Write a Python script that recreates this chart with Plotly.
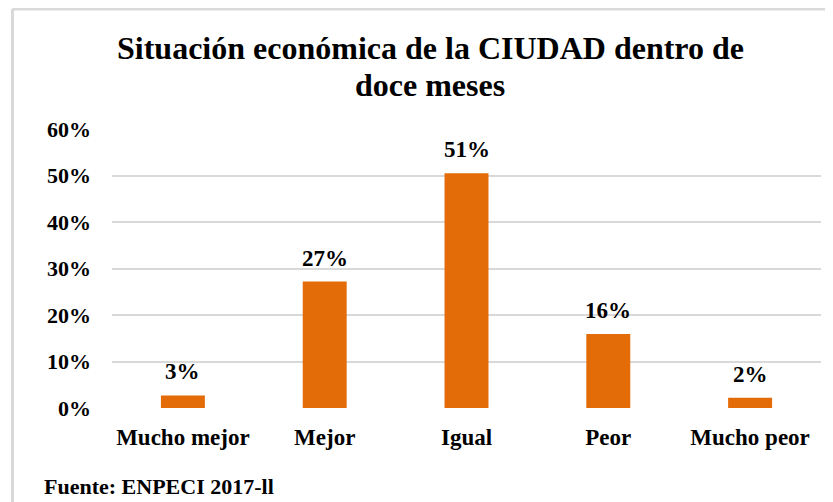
import plotly.graph_objects as go

categories = ["Mucho mejor", "Mejor", "Igual", "Peor", "Mucho peor"]
values = [0.027, 0.272, 0.505, 0.159, 0.022]
labels = ["3%", "27%", "51%", "16%", "2%"]
title_lines = ["Situación económica de la CIUDAD dentro de", "doce meses"]
source_text = "Fuente: ENPECI 2017-ll"

FONT = "Liberation Serif, Times New Roman, serif"
ORANGE = "#E36C09"
GRID = "#D9D9D9"

# browser body margin offsets the figure by 8px
OFF = 8
W, H = 833 - OFF, 502 - OFF
L, R, T, B = 112 - OFF, 12, 129 - OFF, 94
pw, ph = W - L - R, H - T - B

def px(x):
    return (x - OFF - L) / pw

def py(y):
    return (H - B - (y - OFF)) / ph

fig = go.Figure(go.Bar(
    x=categories, y=values,
    marker=dict(color=ORANGE, line=dict(width=0)),
    hoverinfo="x+y",
))

annotations = [
    dict(x=c, y=v, text=t, xref="x", yref="y", showarrow=False,
         xanchor="center", yanchor="bottom", yshift=9,
         font=dict(family=FONT, size=23, color="#000", weight="bold"))
    for c, v, t in zip(categories, values, labels)
]
for line, yc in zip(title_lines, [48, 85]):
    annotations.append(dict(text=line, x=px(430), y=py(yc), xref="paper", yref="paper",
                            xanchor="center", yanchor="middle", showarrow=False,
                            font=dict(family=FONT, size=32, color="#000", weight="bold")))
annotations.append(dict(text=source_text, x=px(42), y=py(487), xref="paper", yref="paper",
                        xanchor="left", yanchor="middle", showarrow=False,
                        font=dict(family=FONT, size=22, color="#000", weight="bold")))

fig.update_layout(
    width=W, height=H,
    margin=dict(l=L, r=R, t=T, b=B),
    paper_bgcolor="white", plot_bgcolor="white",
    bargap=0.69,
    showlegend=False,
    font=dict(family=FONT, color="#000"),
    xaxis=dict(showgrid=False, showline=False, zeroline=False, ticks="",
               tickfont=dict(family=FONT, size=23, color="#000", weight="bold"),
               ticklabelstandoff=13),
    yaxis=dict(range=[0, 0.6], dtick=0.1, tickformat=".0%", showgrid=True,
               gridcolor=GRID, gridwidth=1.5, zeroline=False, showline=False,
               ticks="", ticklabelstandoff=20,
               tickfont=dict(family=FONT, size=22, color="#000", weight="bold")),
    annotations=annotations,
    shapes=[
        dict(type="line", xref="paper", yref="paper", x0=px(12.5), x1=px(833),
             y0=py(9), y1=py(9), line=dict(color=GRID, width=3)),
        dict(type="line", xref="paper", yref="paper", x0=px(12.5), x1=px(12.5),
             y0=py(9), y1=py(502), line=dict(color=GRID, width=3)),
    ],
)

fig.write_html("out.html")
